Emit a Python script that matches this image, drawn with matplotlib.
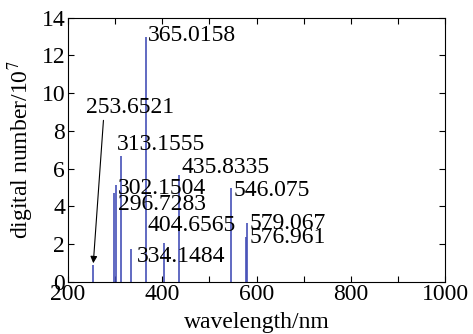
import numpy as np
import matplotlib
matplotlib.use('Agg')
import matplotlib.pyplot as plt

# Hg lamp lines: wavelength (nm) and peak height (digital number / 1e7)
wavelengths = [253.6521, 296.7283, 302.1504, 313.1555, 334.1484, 365.0158,
               404.6565, 435.8335, 546.075, 576.961, 579.067]
heights = [0.88, 4.69, 5.13, 6.66, 1.72, 13.0, 2.07, 5.66, 4.95, 2.39, 3.13]
labels = ['253.6521', '296.7283', '302.1504', '313.1555', '334.1484', '365.0158',
          '404.6565', '435.8335', '546.075', '576.961', '579.067']
# label anchor (left x, centre y) in data units
label_x = [238.2, 306, 306, 304, 346.4, 369.7, 369.7, 439.8, 551, 586, 586]
label_y = [9.26, 4.07, 4.93, 7.3, 1.32, 13.03, 3.0, 6.08, 4.81, 2.32, 3.06]

plt.rcParams['font.family'] = ['Liberation Serif', 'DejaVu Serif']
plt.rcParams['mathtext.fontset'] = 'stix'
fs = 17

fig = plt.figure(figsize=(4.73, 3.34), dpi=100)
ax = fig.add_axes([0.1438, 0.1566, 0.797, 0.7904])

ax.vlines(wavelengths, 0, heights, color='#4650b8', linewidth=1.2)

for i in range(len(labels)):
    if labels[i] == '253.6521':
        continue
    ax.text(label_x[i], label_y[i], labels[i], fontsize=fs, ha='left', va='center')

# arrow label for the 253.6521 line
i0 = labels.index('253.6521')
ax.annotate(labels[i0], xy=(wavelengths[i0], heights[i0] + 0.1),
            xytext=(label_x[i0], label_y[i0]), fontsize=fs, ha='left', va='center',
            arrowprops=dict(arrowstyle='-|>', color='black', lw=0.8,
                            mutation_scale=10, shrinkA=0, shrinkB=0,
                            relpos=(0.2, 0.0)))

ax.set_xlim(200, 1000)
ax.set_ylim(0, 14)
ax.set_xticks(np.arange(200, 1001, 100))
ax.set_xticklabels([str(v) if v % 200 == 0 else '' for v in range(200, 1001, 100)])
ax.set_yticks(np.arange(0, 15, 2))
ax.tick_params(direction='in', length=4, width=0.8, top=True, right=True,
               labelsize=fs, pad=2)
for s in ax.spines.values():
    s.set_linewidth(0.8)

ax.set_xlabel('wavelength/nm', fontsize=fs, labelpad=5)
ax.set_ylabel('digital number/10$^7$', fontsize=fs, labelpad=4)

fig.savefig('out.png', dpi=100)
